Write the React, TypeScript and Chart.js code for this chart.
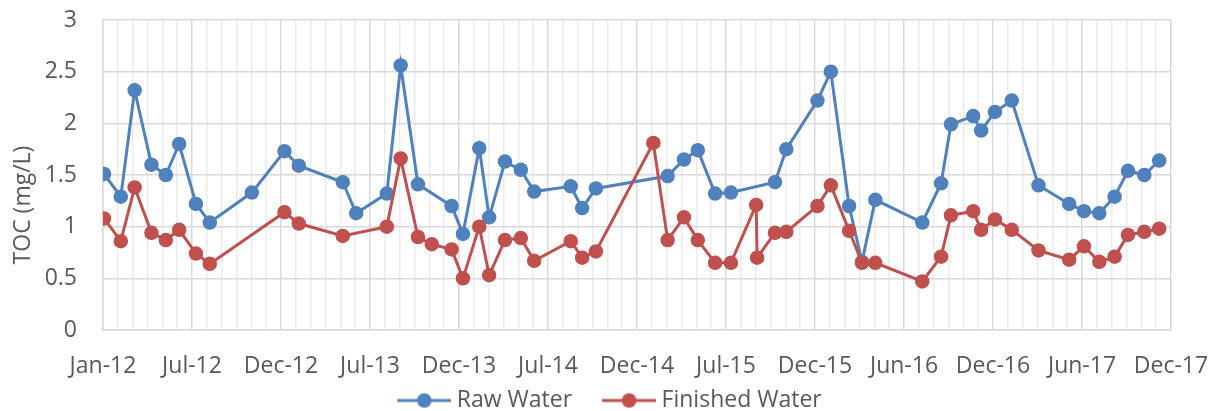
import React, { useEffect, useRef } from "react";
import { Chart, registerables } from "chart.js";

Chart.register(...registerables);

// Sample dates
const sampleDates = [
  "2012-01-03", "2012-02-06", "2012-03-05", "2012-04-08", "2012-05-07", "2012-06-03",
  "2012-07-07", "2012-08-04", "2012-10-28", "2013-01-02", "2013-01-31", "2013-04-30",
  "2013-05-27", "2013-07-28", "2013-08-25", "2013-09-29", "2013-10-27", "2013-12-06",
  "2013-12-29", "2014-01-31", "2014-02-20", "2014-03-24", "2014-04-25", "2014-05-22",
  "2014-08-04", "2014-08-27", "2014-09-24", "2015-01-18", "2015-02-16", "2015-03-21",
  "2015-04-18", "2015-05-23", "2015-06-24", "2015-08-14", "2015-08-16", "2015-09-21",
  "2015-10-14", "2015-12-16", "2016-01-12", "2016-02-18", "2016-03-15", "2016-04-11",
  "2016-07-15", "2016-08-22", "2016-09-11", "2016-10-26", "2016-11-11", "2016-12-09",
  "2017-01-12", "2017-03-07", "2017-05-08", "2017-06-07", "2017-07-08", "2017-08-08",
  "2017-09-04", "2017-10-07", "2017-11-06",
];

// TOC (mg/L), Raw Water (null = no sample)
const rawWater = [
  1.51, 1.29, 2.32, 1.60, 1.50, 1.80,
  1.22, 1.04, 1.33, 1.73, 1.59, 1.43,
  1.13, 1.32, 2.56, 1.41, null, 1.20,
  0.93, 1.76, 1.09, 1.63, 1.55, 1.34,
  1.39, 1.18, 1.37, null, 1.49, 1.65,
  1.74, 1.32, 1.33, null, null, 1.43,
  1.75, 2.22, 2.50, 1.20, 0.66, 1.26,
  1.04, 1.42, 1.99, 2.07, 1.93, 2.11,
  2.22, 1.40, 1.22, 1.15, 1.13, 1.29,
  1.54, 1.50, 1.64,
];

// TOC (mg/L), Finished Water (null = no sample)
const finishedWater = [
  1.08, 0.86, 1.38, 0.94, 0.87, 0.97,
  0.74, 0.64, null, 1.14, 1.03, 0.91,
  null, 1.00, 1.66, 0.90, 0.83, 0.78,
  0.50, 1.00, 0.53, 0.87, 0.89, 0.67,
  0.86, 0.70, 0.76, 1.81, 0.87, 1.09,
  0.87, 0.65, 0.65, 1.21, 0.70, 0.94,
  0.95, 1.20, 1.40, 0.96, 0.65, 0.65,
  0.47, 0.71, 1.11, 1.15, 0.97, 1.07,
  0.97, 0.77, 0.68, 0.81, 0.66, 0.71,
  0.92, 0.95, 0.98,
];

const xTickLabels = [
  "Jan-12", "Jul-12", "Dec-12", "Jul-13", "Dec-13", "Jul-14", "Dec-14",
  "Jul-15", "Dec-15", "Jun-16", "Dec-16", "Jun-17", "Dec-17",
];

const seriesNames = ["Raw Water", "Finished Water"];
const yAxisTitle = "TOC (mg/L)";

const AXIS_START = Date.UTC(2012, 0, 1);
const MAJOR_DAYS = 180;
const MINOR_DAYS = 30;
const MINOR_PER_MAJOR = MAJOR_DAYS / MINOR_DAYS;

const BLUE = "#4F81BD";
const RED = "#C0504D";
const TEXT = "#595959";
const FONT = "'Open Sans', 'DejaVu Sans', sans-serif";

const CANVAS_W = 1219;
const CANVAS_H = 422;

function dayOffset(iso: string): number {
  const [y, m, d] = iso.split("-").map(Number);
  return (Date.UTC(y, m - 1, d) - AXIS_START) / 86400000;
}

function toPoints(values: (number | null)[]) {
  const out: { x: number; y: number }[] = [];
  sampleDates.forEach((d, i) => {
    const v = values[i];
    if (v !== null && v !== undefined) out.push({ x: dayOffset(d), y: v });
  });
  return out;
}

// legend symbol: line with a round marker, drawn in the right part of a wider canvas
function makeLegendMarker(color: string): HTMLCanvasElement {
  const c = document.createElement("canvas");
  c.width = 80;
  c.height = 18;
  const g = c.getContext("2d")!;
  g.strokeStyle = color;
  g.lineWidth = 3;
  g.beginPath();
  g.moveTo(26, 9);
  g.lineTo(80, 9);
  g.stroke();
  g.fillStyle = color;
  g.beginPath();
  g.arc(53, 9, 7.25, 0, Math.PI * 2);
  g.fill();
  return c;
}

const yTitlePlugin = {
  id: "yTitlePlugin",
  afterDraw(chart: any) {
    const ctx = chart.ctx;
    ctx.save();
    ctx.translate(23, 205);
    ctx.rotate(-Math.PI / 2);
    ctx.font = `23px ${FONT}`;
    ctx.fillStyle = TEXT;
    ctx.textAlign = "center";
    ctx.textBaseline = "middle";
    ctx.fillText(yAxisTitle, 0, 0);
    ctx.restore();
  },
};

export default function App() {
  const canvasRef = useRef<HTMLCanvasElement | null>(null);

  useEffect(() => {
    document.body.style.margin = "0";
    document.body.style.overflow = "hidden";
    document.documentElement.style.overflow = "hidden";
    const canvas = canvasRef.current;
    if (!canvas) return;
    const markers = [makeLegendMarker(BLUE), makeLegendMarker(RED)];
    const colors = [BLUE, RED];
    const series = [rawWater, finishedWater];

    const chart = new Chart(canvas, {
      type: "line",
      data: {
        datasets: series.map((vals, i) => ({
          label: seriesNames[i],
          data: toPoints(vals),
          borderColor: colors[i],
          backgroundColor: colors[i],
          pointBackgroundColor: colors[i],
          pointBorderColor: colors[i],
          borderWidth: 3,
          pointRadius: 6.5,
          pointBorderWidth: 1.5,
          tension: 0,
          order: i === 0 ? 1 : 0,
        })),
      },
      options: {
        animation: false,
        responsive: false,
        devicePixelRatio: 1,
        parsing: false as any,
        layout: { padding: { left: 0, right: 20, top: 20, bottom: 0 } },
        plugins: {
          tooltip: { enabled: false },
          legend: {
            position: "bottom",
            labels: {
              usePointStyle: true,
              pointStyleWidth: 68,
              padding: 10,
              color: TEXT,
              font: { family: FONT, size: 23 },
              sort: (a: any, b: any) => a.datasetIndex - b.datasetIndex,
              generateLabels: (ch: any) => {
                const items = (Chart as any).defaults.plugins.legend.labels.generateLabels(ch);
                return items.map((it: any) => ({ ...it, pointStyle: markers[it.datasetIndex] }));
              },
            },
          },
        },
        scales: {
          x: {
            type: "linear",
            min: 0,
            max: MAJOR_DAYS * (xTickLabels.length - 1),
            afterFit: (scale: any) => {
              scale.height = 49;
              scale.paddingRight = 48;
            },
            ticks: {
              stepSize: MINOR_DAYS,
              maxTicksLimit: 200,
              autoSkip: false,
              maxRotation: 0,
              padding: 23,
              color: TEXT,
              font: { family: FONT, size: 23 },
              callback: (_v: any, index: number) =>
                index % MINOR_PER_MAJOR === 0 ? xTickLabels[index / MINOR_PER_MAJOR] : "",
            },
            grid: {
              drawTicks: false,
              lineWidth: 1.5,
              color: (ctx: any) => (ctx.index % MINOR_PER_MAJOR === 0 ? "#D9D9D9" : "#EBEBEB"),
            },
            border: { color: "#D9D9D9", width: 1.5 },
          },
          y: {
            min: 0,
            max: 3,
            afterFit: (scale: any) => {
              scale.width = 103;
              scale.paddingTop = 0;
              scale.paddingBottom = 0;
            },
            ticks: {
              stepSize: 0.5,
              padding: 26,
              color: TEXT,
              font: { family: FONT, size: 23 },
              callback: (v: any) => String(Number(Number(v).toFixed(1))),
            },
            grid: { drawTicks: false, lineWidth: 1.5, color: "#D9D9D9" },
            border: { color: "#D9D9D9", width: 1.5 },
          },
        },
      },
      plugins: [yTitlePlugin],
    } as any);

    return () => chart.destroy();
  }, []);

  return (
    <div style={{ width: CANVAS_W, height: CANVAS_H }}>
      <canvas ref={canvasRef} width={CANVAS_W} height={CANVAS_H} style={{ display: "block" }} />
    </div>
  );
}
